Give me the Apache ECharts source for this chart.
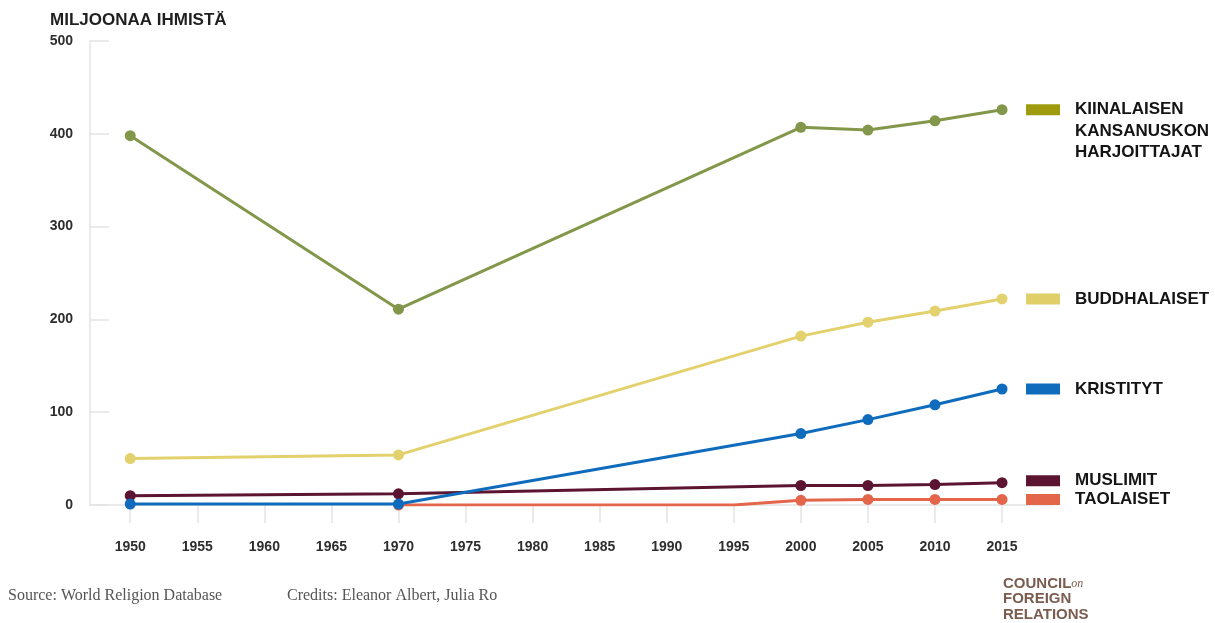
<!DOCTYPE html>
<html>
<head>
<meta charset="utf-8">
<script src="https://cdn.jsdelivr.net/npm/echarts@6/dist/echarts.min.js"></script>
<style>
html,body{margin:0;padding:0;background:#fff;}
#chart{width:1215px;height:623px;}
</style>
</head>
<body>
<div id="chart"></div>
<script>
// ---- data ----
const tickYears = [1950,1955,1960,1965,1970,1975,1980,1985,1990,1995,2000,2005,2010,2015];
const yTicks = [0,100,200,300,400,500];
const mainYears = [1950,1970,2000,2005,2010,2015];
const folkValues = [398,211,407,404,414,426];
const buddhistValues = [50,54,182,197,209,222];
const christianValues = [1,1,77,92,108,125];
const muslimValues = [10,12,21,21,22,24];
const taoistYears = [1970,1995,2000,2005,2010,2015];
const taoistValues = [0,0,5,6,6,6];
const hiddenMarkerYears = [1995];

const seriesNames = {
  folk: ['KIINALAISEN','KANSANUSKON','HARJOITTAJAT'],
  buddhist: ['BUDDHALAISET'],
  christian: ['KRISTITYT'],
  muslim: ['MUSLIMIT'],
  taoist: ['TAOLAISET']
};

// ---- styling ----
const FONT = '"Liberation Sans", Arial, sans-serif';
const gridLine = '#e4e4e4';

function pts(years, vals){
  return years.map((y,i)=>{
    const item = {value:[y, vals[i]]};
    if (hiddenMarkerYears.indexOf(y) >= 0 && years === taoistYears) item.symbol = 'none';
    return item;
  });
}

function endLabel(lines, swatch, offsetY){
  const fmt = lines.map((l,i)=> (i===0 ? '{s|}' : '{g|}') + '{t|' + l + '}').join('\n');
  return {
    show: true,
    distance: 24,
    offset: [0, offsetY],
    formatter: fmt,
    rich: {
      s: {width: 34, height: 11, backgroundColor: swatch},
      g: {width: 34, height: 11},
      t: {fontFamily: FONT, fontSize: 17, fontWeight: 'bold', color: '#141414', lineHeight: 21.5, padding: [0,0,0,15]}
    }
  };
}

function lineSeries(name, data, color, swatch, lines, offsetY, z){
  return {
    name: name,
    type: 'line',
    data: data,
    z: z,
    symbol: 'circle',
    symbolSize: 11,
    showSymbol: true,
    lineStyle: {color: color, width: 3},
    itemStyle: {color: color},
    endLabel: endLabel(lines, swatch, offsetY),
    labelLayout: {hideOverlap: false},
    emphasis: {disabled: true}
  };
}

const chart = echarts.init(document.getElementById('chart'));
chart.setOption({
  animation: false,
  backgroundColor: '#ffffff',
  title: {
    text: 'MILJOONAA IHMISTÄ',
    left: 45, top: 7,
    textStyle: {fontFamily: FONT, fontSize: 17, fontWeight: 'bold', color: '#1f1f1f'}
  },
  grid: {left: 90, right: 162, top: 41, bottom: 118, containLabel: false},
  xAxis: {
    type: 'value',
    min: 1947,
    max: 2018.8,
    axisLine: {show: true, lineStyle: {color: gridLine, width: 1.5}},
    axisTick: {show: true, inside: false, length: 18, customValues: tickYears, lineStyle: {color: gridLine, width: 1.5}},
    axisLabel: {show: true, customValues: tickYears, margin: 35, fontFamily: FONT, fontSize: 14, fontWeight: 'bold', color: '#2e2e2e',
      formatter: v => String(v)},
    splitLine: {show: false}
  },
  yAxis: {
    type: 'value',
    min: 0, max: 500, interval: 100,
    axisLine: {show: true, lineStyle: {color: gridLine, width: 1.5}},
    axisTick: {show: true, inside: true, length: 19, lineStyle: {color: gridLine, width: 1.5}},
    axisLabel: {margin: 17, fontFamily: FONT, fontSize: 14, fontWeight: 'bold', color: '#2e2e2e',
      customValues: yTicks},
    splitLine: {show: false}
  },
  series: [
    lineSeries('TAOLAISET', pts(taoistYears, taoistValues), '#e3664a', '#e3664a', seriesNames.taoist, 0, 2),
    lineSeries('MUSLIMIT', pts(mainYears, muslimValues), '#5c1530', '#5c1530', seriesNames.muslim, -2, 3),
    lineSeries('KRISTITYT', pts(mainYears, christianValues), '#0f6cbd', '#0f6cbd', seriesNames.christian, 0, 4),
    lineSeries('BUDDHALAISET', pts(mainYears, buddhistValues), '#e2d16c', '#e0cf68', seriesNames.buddhist, 0, 5),
    lineSeries('KIINALAISEN KANSANUSKON HARJOITTAJAT', pts(mainYears, folkValues), '#82974a', '#9e9c0e', seriesNames.folk, 21.5, 6)
  ],
  graphic: [
    {type: 'text', left: 8, top: 588, style: {text: 'Source: World Religion Database', font: '16px "Liberation Serif", "DejaVu Serif", serif', fill: '#555'}},
    {type: 'text', left: 287, top: 588, style: {text: 'Credits: Eleanor Albert, Julia Ro', font: '16px "Liberation Serif", "DejaVu Serif", serif', fill: '#555'}},
    {type: 'text', left: 1003, top: 576, style: {
      text: '{a|COUNCIL}{b|on}\n{a|FOREIGN}\n{a|RELATIONS}',
      rich: {
        a: {font: 'bold 15px "Liberation Sans", Arial, sans-serif', fill: '#7a5c50', lineHeight: 15.5},
        b: {font: 'italic 12px "Liberation Serif", serif', fill: '#7a5c50', lineHeight: 15.5}
      }
    }}
  ]
});
</script>
</body>
</html>
